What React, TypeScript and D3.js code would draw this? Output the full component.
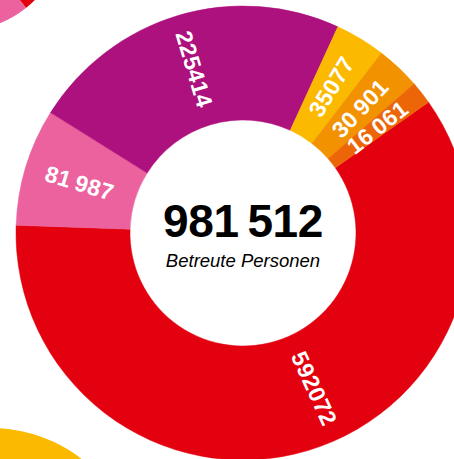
import React from "react";
import * as d3 from "d3";

const categories = ["A", "B", "C", "D", "E", "F"];
const values = [592072, 81987, 225414, 35077, 30901, 16061];
const labels = ["592072", "81\u2009987", "225414", "35077", "30\u2009901", "16\u2009061"];
const colors = ["#E3000F", "#EB629E", "#AD117D", "#FBBA00", "#F39200", "#EC6608"];
const totalLabel = "981\u2009512";
const subtitle = "Betreute Personen";

const W = 454;
const H = 459;
const cx = 243;
const cy = 233;
const rIn = 113;
const rOut = 227;
const startDeg = 54.8;
// label placement tweak (degrees) per slice
const labelShiftDeg = [-8, 0, 0, 0, 0, 0];

export default function App() {
  const rad = (d: number) => (d * Math.PI) / 180;
  const pie = d3
    .pie<number>()
    .sort(null)
    .value((d) => d)
    .startAngle(rad(startDeg))
    .endAngle(rad(startDeg + 360));
  const arcs = pie(values);
  const arc = d3.arc<d3.PieArcDatum<number>>().innerRadius(rIn).outerRadius(rOut);
  const rLab = (rIn + rOut) / 2 + 1;

  const sideArc = d3.arc();
  const font = "'Liberation Sans', Arial, Helvetica, sans-serif";

  return (
    <svg
      width={W}
      height={H}
      style={{ position: "absolute", left: 0, top: 0, display: "block" }}
    >
      <rect width={W} height={H} fill="#fff" />
      {/* neighbouring donut, top-left */}
      <g transform="translate(-40,-75)">
        <path
          d={sideArc({ innerRadius: 0, outerRadius: 106, startAngle: rad(90), endAngle: rad(141.5) }) || ""}
          fill="#E3000F"
        />
        <path
          d={sideArc({ innerRadius: 0, outerRadius: 106, startAngle: rad(141.5), endAngle: rad(220) }) || ""}
          fill="#EB629E"
        />
      </g>
      {/* neighbouring donut, bottom-left */}
      <g transform="translate(-9,576)">
        <path
          d={sideArc({ innerRadius: 0, outerRadius: 148, startAngle: rad(-10), endAngle: rad(60) }) || ""}
          fill="#FBBA00"
        />
      </g>
      <g transform={`translate(${cx},${cy})`}>
        {arcs.map((a, i) => (
          <path key={categories[i]} d={arc(a) || ""} fill={colors[i]} stroke={colors[i]} strokeWidth={0.5} />
        ))}
        {arcs.map((a, i) => {
          let deg = (((a.startAngle + a.endAngle) / 2) * 180) / Math.PI + labelShiftDeg[i];
          deg = ((deg % 360) + 360) % 360;
          const x = rLab * Math.sin(rad(deg));
          const y = -rLab * Math.cos(rad(deg));
          const rot = deg < 180 ? deg - 90 : deg - 270;
          return (
            <text
              key={"l" + categories[i]}
              transform={`translate(${x},${y}) rotate(${rot})`}
              textAnchor="middle"
              dominantBaseline="central"
              fill="#fff"
              fontFamily={font}
              fontWeight="bold"
              fontSize={23}
              letterSpacing={0.3}
            >
              {labels[i]}
            </text>
          );
        })}
        <text
          x={0}
          y={4}
          textAnchor="middle"
          fontFamily={font}
          fontWeight="bold"
          fontSize={46}
          letterSpacing={-0.4}
          fill="#000"
        >
          {totalLabel}
        </text>
        <text
          x={0}
          y={34}
          textAnchor="middle"
          fontFamily={font}
          fontStyle="italic"
          fontSize={18.5}
          fill="#000"
        >
          {subtitle}
        </text>
      </g>
    </svg>
  );
}
